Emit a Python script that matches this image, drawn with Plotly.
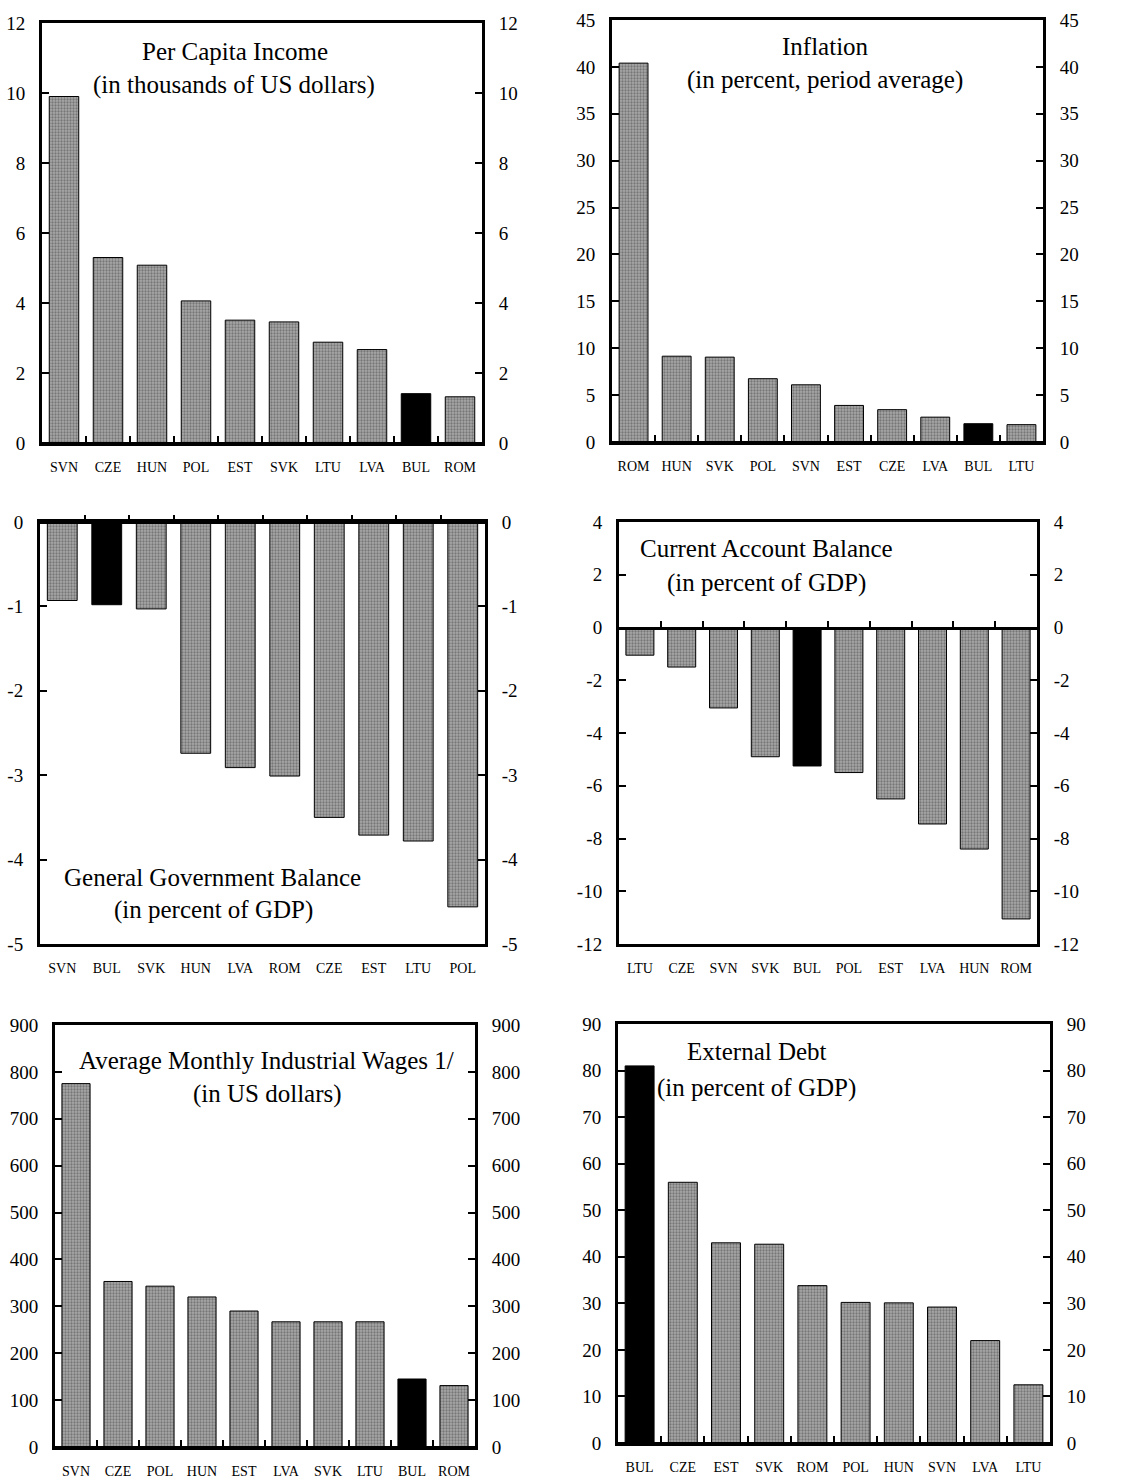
import plotly.graph_objects as go

W, H = 1129, 1480

# ---- data ----
income_cats = ["SVN", "CZE", "HUN", "POL", "EST", "SVK", "LTU", "LVA", "BUL", "ROM"]
income_vals = [9.9, 5.3, 5.08, 4.06, 3.51, 3.46, 2.88, 2.67, 1.41, 1.32]

infl_cats = ["ROM", "HUN", "SVK", "POL", "SVN", "EST", "CZE", "LVA", "BUL", "LTU"]
infl_vals = [40.4, 9.15, 9.05, 6.75, 6.1, 3.9, 3.45, 2.65, 1.95, 1.85]

ggb_cats = ["SVN", "BUL", "SVK", "HUN", "LVA", "ROM", "CZE", "EST", "LTU", "POL"]
ggb_vals = [-0.93, -0.98, -1.03, -2.74, -2.91, -3.01, -3.5, -3.71, -3.78, -4.56]

cab_cats = ["LTU", "CZE", "SVN", "SVK", "BUL", "POL", "EST", "LVA", "HUN", "ROM"]
cab_vals = [-1.05, -1.5, -3.05, -4.9, -5.25, -5.5, -6.5, -7.45, -8.4, -11.05]

wage_cats = ["SVN", "CZE", "POL", "HUN", "EST", "LVA", "SVK", "LTU", "BUL", "ROM"]
wage_vals = [775, 353, 343, 320, 290, 267, 267, 267, 145, 131]

debt_cats = ["BUL", "CZE", "EST", "SVK", "ROM", "POL", "HUN", "SVN", "LVA", "LTU"]
debt_vals = [81, 56, 43, 42.7, 33.8, 30.2, 30.1, 29.2, 22, 12.5]

income_ticks = list(range(0, 13, 2))
infl_ticks = list(range(0, 46, 5))
ggb_ticks = list(range(-5, 1, 1))
cab_ticks = list(range(-12, 5, 2))
wage_ticks = list(range(0, 901, 100))
debt_ticks = list(range(0, 91, 10))

highlight = "BUL"

# ---- panel layout (pixel boxes: left, right, top, bottom) ----
panels = [
    dict(cats=income_cats, vals=income_vals, ticks=income_ticks,
         box=(42, 482, 23, 443),
         title=[("Per Capita Income", 235, 52), ("(in thousands of US dollars)", 234, 85)]),
    dict(cats=infl_cats, vals=infl_vals, ticks=infl_ticks,
         box=(612, 1043, 20, 442),
         title=[("Inflation", 825, 46), ("(in percent, period average)", 825, 80)]),
    dict(cats=ggb_cats, vals=ggb_vals, ticks=ggb_ticks,
         box=(40, 485, 522, 944),
         title=[("General Government Balance", 212, 877), ("(in percent of GDP)", 213, 910)]),
    dict(cats=cab_cats, vals=cab_vals, ticks=cab_ticks,
         box=(619, 1037, 522, 944),
         title=[("Current Account Balance", 766, 549), ("(in percent of GDP)", 766, 583)]),
    dict(cats=wage_cats, vals=wage_vals, ticks=wage_ticks,
         box=(55, 475, 1025, 1447),
         title=[("Average Monthly Industrial Wages 1/", 266, 1060), ("(in US dollars)", 267, 1094)]),
    dict(cats=debt_cats, vals=debt_vals, ticks=debt_ticks,
         box=(618, 1050, 1024, 1443),
         title=[("External Debt", 757, 1051), ("(in percent of GDP)", 756, 1088)]),
]

FONT = "Liberation Serif"
LW = 3

fig = go.Figure()
layout = dict(
    template="none",
    width=W, height=H,
    margin=dict(l=0, r=0, t=0, b=0, pad=0, autoexpand=False),
    paper_bgcolor="white", plot_bgcolor="white",
    showlegend=False,
    bargap=0.33,
    font=dict(family=FONT, color="black"),
    annotations=[],
)

n_p = len(panels)
for i, p in enumerate(panels, start=1):
    x0, x1, ytop, ybot = p["box"]
    xd = [x0 / W, x1 / W]
    yd = [1 - ybot / H, 1 - ytop / H]
    ymin, ymax = min(p["ticks"]), max(p["ticks"])
    n = len(p["cats"])
    sfx = "" if i == 1 else str(i)
    k = i + n_p

    # stippled grey bars, Bulgaria in solid black
    colors = ["black" if c == highlight else "#a8a8a8" for c in p["cats"]]
    shapes = ["" if c == highlight else "." for c in p["cats"]]

    fig.add_trace(go.Bar(
        x=p["cats"], y=p["vals"],
        xaxis="x" + sfx, yaxis="y" + sfx,
        marker=dict(
            color=colors,
            line=dict(color="black", width=1),
            pattern=dict(shape=shapes, fgcolor="black", fillmode="overlay",
                         size=3, solidity=0.45),
        ),
        hoverinfo="skip",
    ))
    # invisible companions so the mirrored right axis and the zero-line axis get drawn
    fig.add_trace(go.Scatter(
        x=p["cats"], y=p["vals"], xaxis="x" + sfx, yaxis="y%d" % k,
        mode="markers", marker=dict(opacity=0), hoverinfo="skip",
    ))
    fig.add_trace(go.Scatter(
        x=list(range(n)), y=p["vals"], xaxis="x%d" % k, yaxis="y" + sfx,
        mode="markers", marker=dict(opacity=0), hoverinfo="skip",
    ))

    # category axis: labels + outer box top/bottom
    layout["xaxis" + sfx] = dict(
        domain=xd, anchor="y" + sfx, type="category",
        categoryorder="array", categoryarray=p["cats"],
        range=[-0.5, n - 0.5], automargin=False,
        showline=True, linewidth=LW, linecolor="black", mirror=True,
        ticks="", showgrid=False, zeroline=False,
        tickfont=dict(family=FONT, size=14, color="black"),
        ticklabelstandoff=9,
    )
    # zero line with boundary ticks between categories
    zpos = yd[0] + (0 - ymin) / (ymax - ymin) * (yd[1] - yd[0])
    layout["xaxis%d" % k] = dict(
        overlaying="x" + sfx, anchor="free", position=zpos,
        range=[-0.5, n - 0.5], automargin=False,
        tickmode="array", tickvals=[j + 0.5 for j in range(n - 1)],
        ticks="inside", ticklen=6, tickwidth=2, tickcolor="black",
        showticklabels=False, showgrid=False, zeroline=False,
        showline=True, linewidth=LW, linecolor="black",
    )
    tick_text = [str(v) for v in p["ticks"]]
    yax_common = dict(
        range=[ymin, ymax], tickmode="array", tickvals=p["ticks"], ticktext=tick_text,
        ticks="inside", ticklen=7, tickwidth=2, tickcolor="black",
        showline=True, linewidth=LW, linecolor="black",
        showgrid=False, zeroline=False, automargin=False,
        tickfont=dict(family=FONT, size=19, color="black"),
        ticklabelstandoff=10,
    )
    layout["yaxis" + sfx] = dict(domain=yd, anchor="x" + sfx, side="left", **yax_common)
    layout["yaxis%d" % k] = dict(overlaying="y" + sfx, anchor="x" + sfx, side="right", **yax_common)

    for text, tx, ty in p["title"]:
        layout["annotations"].append(dict(
            text=text, x=tx / W, y=1 - ty / H, xref="paper", yref="paper",
            xanchor="center", yanchor="middle", showarrow=False,
            font=dict(family=FONT, size=25, color="black"),
        ))

fig.update_layout(**layout)
fig.write_html("out.html")
